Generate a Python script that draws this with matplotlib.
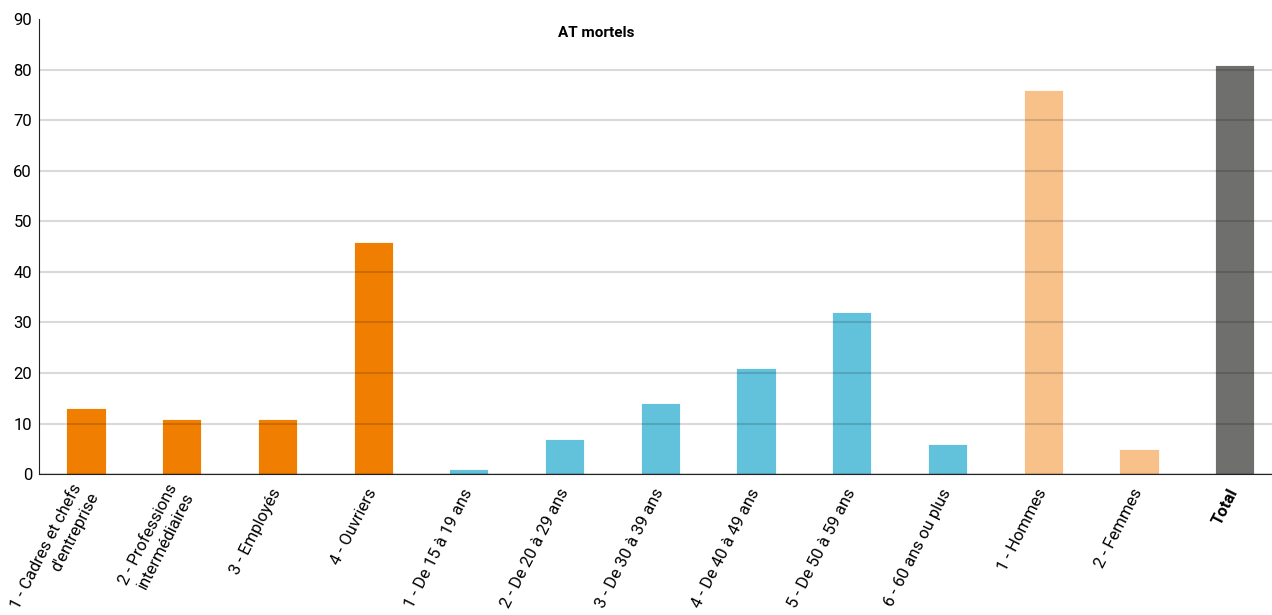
"""
AT mortels bar chart
"""

import matplotlib
matplotlib.use("Agg")
from matplotlib import pyplot as plt

# Data
categories = [
    "1 - Cadres et chefs\nd'entreprise",
    "2 - Professions\nintermédiaires",
    "3 - Employés",
    "4 - Ouvriers",
    "1 - De 15 à 19 ans",
    "2 - De 20 à 29 ans",
    "3 - De 30 à 39 ans",
    "4 - De 40 à 49 ans",
    "5 - De 50 à 59 ans",
    "6 - 60 ans ou plus",
    "1 - Hommes",
    "2 - Femmes",
    "Total",
]
values = [13, 11, 11, 46, 1, 7, 14, 21, 32, 6, 76, 5, 81]
groups = ["csp"] * 4 + ["age"] * 6 + ["sexe"] * 2 + ["total"]
group_colors = {"csp": "#F07E00", "age": "#62C2DC", "sexe": "#F9C18A", "total": "#6F6F6D"}

plt.rcParams["font.family"] = ["Roboto", "DejaVu Sans"]

fig = plt.figure(figsize=(12.72, 6.15), dpi=100)
ax = fig.add_axes([0.0307, 0.229, 0.9693, 0.740])
ax.spines["top"].set_visible(False)
ax.spines["right"].set_visible(False)
ax.spines["left"].set_color("#222222")
ax.spines["bottom"].set_color("#222222")

x = list(range(len(categories)))
colors = [group_colors[g] for g in groups]
ax.bar(x, values, width=0.41, color=colors, edgecolor="white", linewidth=0.6, zorder=1)

# Gridlines over the bars
ax.set_axisbelow(False)
ax.yaxis.grid(True, color="black", alpha=0.15, linewidth=1.5, zorder=3)

ax.set_ylim(0, 90)
ax.set_xlim(-0.49, 12.39)
ax.set_yticks(range(0, 91, 10))
ax.yaxis.get_gridlines()[-1].set_visible(False)
ax.tick_params(axis="y", length=0, labelsize=12, pad=5)
ax.tick_params(axis="x", length=0)
ax.set_xticks(x)
ax.set_xticklabels([])

# Category labels, rotated, right end on the bar centre
for i, name in enumerate(categories):
    ax.annotate(name, xy=(i, 0), xycoords=("data", "axes fraction"),
                xytext=(0, -11), textcoords="offset points",
                rotation=63, ha="right", va="center", rotation_mode="anchor",
                fontsize=12, multialignment="right", linespacing=1.35,
                fontweight="bold" if name == "Total" else "normal",
                annotation_clip=False)

ax.text(0.452, 0.985, "AT mortels", transform=ax.transAxes, ha="center", va="top",
        fontsize=11, fontweight="bold")

plt.savefig("out.png", dpi=100)
plt.close()
